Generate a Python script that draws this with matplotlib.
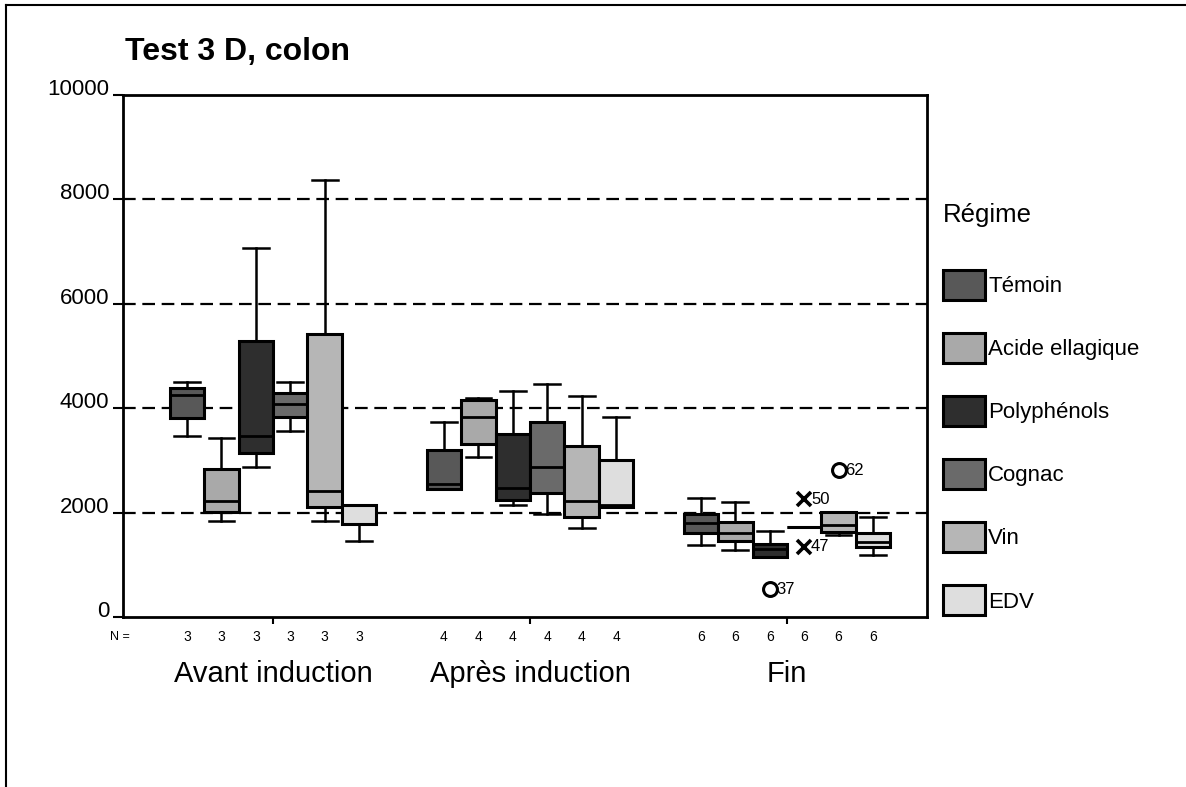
import matplotlib
matplotlib.use("Agg")
from matplotlib import pyplot as plt
from matplotlib.patches import Patch
from matplotlib.lines import Line2D
import matplotlib.transforms as mtransforms

plt.rcParams['font.family'] = ['Liberation Sans', 'DejaVu Sans']

periods = ["Avant induction", "Après induction", "Fin"]
regimes = ["Témoin", "Acide ellagique", "Polyphénols", "Cognac", "Vin", "EDV"]
n_per_period = [3, 4, 6]

# five numbers per period: whisker low, q1, median, q3, whisker high
temoin = [[3470, 3820, 4260, 4390, 4510], [2450, 2450, 2550, 3200, 3730], [1370, 1600, 1800, 1980, 2280]]
acide = [[1830, 2020, 2230, 2840, 3430], [3060, 3320, 3830, 4150, 4190], [1290, 1460, 1600, 1820, 2200]]
polyphenols = [[2880, 3140, 3460, 5290, 7060], [2150, 2240, 2480, 3510, 4320], [1150, 1150, 1300, 1400, 1650]]
cognac = [[3570, 3830, 4090, 4290, 4510], [1980, 2370, 2870, 3740, 4470], [1720, 1720, 1720, 1720, 1720]]
vin = [[1830, 2100, 2420, 5420, 8370], [1700, 1920, 2230, 3270, 4240], [1570, 1620, 1760, 2020, 2020]]
edv = [[1460, 1780, 2150, 2150, 2150], [2100, 2100, 2150, 3010, 3830], [1190, 1340, 1440, 1600, 1920]]
all_stats = [temoin, acide, polyphenols, cognac, vin, edv]

fill_colors = ["#585858", "#a9a9a9", "#2e2e2e", "#6a6a6a", "#b6b6b6", "#dedede"]

# outliers (period, regime, value, case number, marker)
out_period = [2, 2, 2, 2]
out_regime = [2, 3, 3, 4]
out_value = [530, 2260, 1350, 2810]
out_case = ["37", "50", "47", "62"]
out_marker = ["o", "x", "x", "o"]

W, H = 1186, 787
fig = plt.figure(figsize=(W / 100, H / 100), dpi=100)
ax = fig.add_axes([123 / W, 1 - 617 / H, (927 - 123) / W, (617 - 95) / H])

bw = 0.134
for i, stats in enumerate(all_stats):
    pos = [g + (i - 2.5) * bw for g in range(3)]
    bxp_stats = []
    for s in stats:
        bxp_stats.append(dict(whislo=s[0], q1=s[1], med=s[2], q3=s[3], whishi=s[4], fliers=[]))
    ax.bxp(bxp_stats, positions=pos, widths=bw, capwidths=0.1, patch_artist=True,
           boxprops=dict(facecolor=fill_colors[i], edgecolor="black", linewidth=2.2),
           medianprops=dict(color="black", linewidth=2.0),
           whiskerprops=dict(color="black", linewidth=1.8),
           capprops=dict(color="black", linewidth=1.8),
           manage_ticks=False, zorder=3)

for p, r, v, c, m in zip(out_period, out_regime, out_value, out_case, out_marker):
    x = p + (r - 2.5) * bw
    if m == "o":
        ax.plot(x, v, marker="o", ms=10, mfc="white", mec="black", mew=2.2, ls="none", zorder=4)
    else:
        ax.plot(x, v, marker="x", ms=10, mec="black", mew=2.6, ls="none", zorder=4)
    ax.annotate(c, (x, v), xytext=(5, 0), textcoords="offset points", va="center", ha="left", fontsize=12)

for yv in [2000, 4000, 6000, 8000]:
    ax.axhline(yv, color="black", lw=1.6, dashes=(5.7, 3), zorder=1)

ax.set_xlim(-0.584, 2.545)
ax.set_ylim(0, 10000)
ax.set_yticks([0, 2000, 4000, 6000, 8000, 10000])
ax.set_yticklabels(["0", "2000", "4000", "6000", "8000", "10000"], fontsize=16)
for lab in ax.get_yticklabels():
    lab.set_verticalalignment("baseline")
ax.tick_params(axis="y", direction="out", length=7, width=1.5, pad=3)
ax.set_xticks([0, 1, 2])
ax.set_xticklabels(periods, fontsize=21)
ax.tick_params(axis="x", direction="out", length=5, width=1.5, pad=26)
for sp in ax.spines.values():
    sp.set_linewidth(2)

trans = mtransforms.blended_transform_factory(ax.transData, fig.transFigure)
for g, n in enumerate(n_per_period):
    for i in range(6):
        ax.text(g + (i - 2.5) * bw, 1 - 637 / H, str(n), transform=trans, ha="center", va="center", fontsize=10)
fig.text(120 / W, 1 - 637 / H, "N =", ha="center", va="center", fontsize=9)

fig.text(125 / W, 1 - 52 / H, "Test 3 D, colon", fontsize=23, fontweight="bold", ha="left", va="center")

handles = [Patch(facecolor=c, edgecolor="black", linewidth=2.2) for c in fill_colors]
leg = fig.legend(handles, regimes, loc="upper left", bbox_to_anchor=(925 / W, 1 - 185 / H),
                 frameon=False, fontsize=16, title="Régime", title_fontsize=18.5,
                 handlelength=1.9, handleheight=1.7, labelspacing=1.49, handletextpad=0.15,
                 alignment="left", borderpad=0.3)
leg._legend_box.sep = 31

fig.add_artist(Line2D([6 / W, 6 / W], [0, 1 - 5 / H], color="black", lw=1.5, transform=fig.transFigure))
fig.add_artist(Line2D([6 / W, 1], [1 - 5 / H, 1 - 5 / H], color="black", lw=1.5, transform=fig.transFigure))

fig.savefig("out.png", dpi=100)
